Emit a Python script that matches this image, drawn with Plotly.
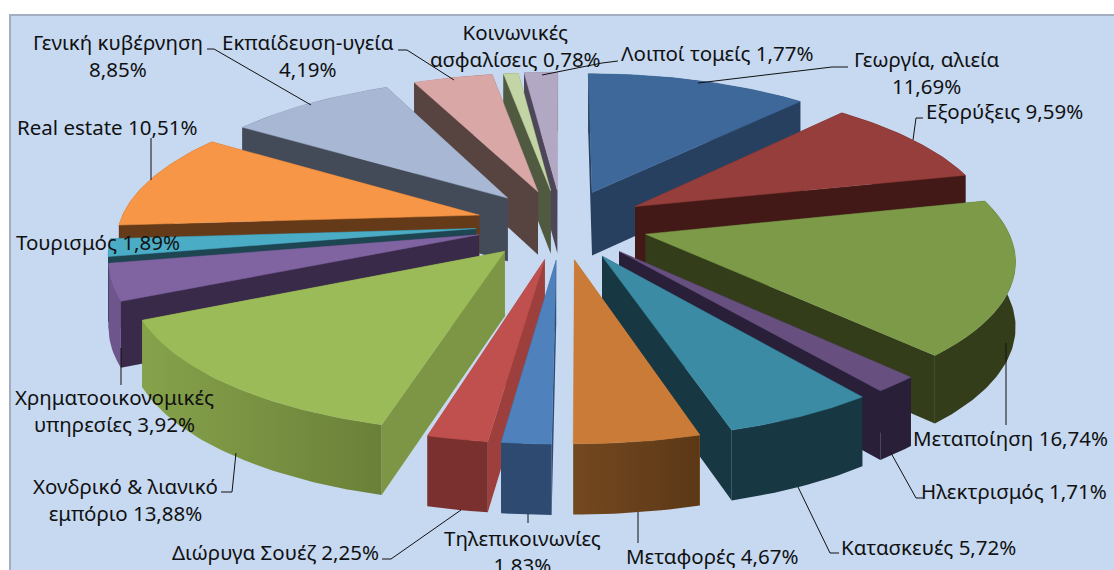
import numpy as np
import plotly.graph_objects as go

# ---------- data ----------
sectors = ["Γεωργία, αλιεία", "Εξορύξεις", "Μεταποίηση", "Ηλεκτρισμός", "Κατασκευές", "Μεταφορές",
           "Τηλεπικοινωνίες", "Διώρυγα Σουέζ", "Χονδρικό & λιανικό εμπόριο", "Χρηματοοικονομικές υπηρεσίες",
           "Τουρισμός", "Real estate", "Γενική κυβέρνηση", "Εκπαίδευση-υγεία", "Κοινωνικές ασφαλίσεις", "Λοιποί τομείς"]
shares = [11.69, 9.59, 16.74, 1.71, 5.72, 4.67, 1.83, 2.25, 13.88, 3.92, 1.89, 10.51, 8.85, 4.19, 0.78, 1.77]
top_colors = ["#3d6899", "#963e3b", "#7c9a48", "#67507f", "#3a8ba3", "#c97b37", "#4f81bd", "#c0504d",
              "#9bbb59", "#8064a2", "#4bacc6", "#f79646", "#a8b8d4", "#d9a7a6", "#c3d5a4", "#b3a8c4"]
wall_left = ["#274060", "#421917", "#333d1a", "#291f38", "#173742", "#74481f", "#2e4a70", "#7a302e",
             "#86a24b", "#6e558c", "#1d4552", "#643a18", "#444b58", "#574340", "#4f5a40", "#4c4658"]
wall_right = ["#274060", "#421917", "#333d1a", "#291f38", "#173742", "#5c3817", "#2e4a70", "#7a302e",
              "#6a8038", "#6e558c", "#1d4552", "#643a18", "#444b58", "#574340", "#4f5a40", "#4c4658"]
radial_colors = ["#274060", "#421917", "#333d1a", "#291f38", "#173742", "#c97b37", "#2e4a70", "#9c3f3d",
                 "#7c9645", "#3a2a4a", "#1d4552", "#643a18", "#444b58", "#574340", "#4f5a40", "#4c4658"]

labels = [("Γεωργία, αλιεία<br>11,69%", 926, 72), ("Εξορύξεις 9,59%", 1004, 111),
          ("Μεταποίηση 16,74%", 1010, 438), ("Ηλεκτρισμός 1,71%", 1014, 491),
          ("Κατασκευές 5,72%", 928, 547), ("Μεταφορές 4,67%", 712, 556),
          ("Τηλεπικοινωνίες<br>1,83%", 522, 551), ("Διώρυγα Σουέζ 2,25%", 275, 552),
          ("Χονδρικό & λιανικό<br>εμπόριο 13,88%", 125, 499),
          ("Χρηματοοικονομικές<br>υπηρεσίες 3,92%", 114, 410),
          ("Τουρισμός 1,89%", 98, 242), ("Real estate 10,51%", 107, 127),
          ("Γενική κυβέρνηση<br>8,85%", 118, 55), ("Εκπαίδευση-υγεία<br>4,19%", 308, 55),
          ("Κοινωνικές<br>ασφαλίσεις 0,78%", 515, 45), ("Λοιποί τομείς 1,77%", 717, 53)]
leaders = [[(698, 83), (832, 67), (848, 67)], [(913, 140), (916, 118), (923, 118)],
           [(1006, 343), (1006, 425)], [(891, 453), (916, 498), (923, 498)],
           [(798, 487), (830, 553), (839, 553)], [(638, 512), (638, 543)],
           [(528, 514), (528, 523)], [(461, 510), (391, 559), (382, 559)],
           [(236, 453), (232, 492), (221, 492)], [(121, 348), (121, 385)],
           [(151, 180), (151, 138)], [(311, 105), (214, 49), (207, 49)],
           [(454, 80), (407, 50), (398, 50)], [(542, 75), (602, 63), (618, 61)]]

# ---------- projection of the exploded pie ----------
CX, CY, AX, BY, PERSP, HEIGHT, EXPLODE = 562, 224, 360, 145, 0.148, 64, 0.24


def project(x, y, z=0.0):
    w = 1 + PERSP * y
    return CX + AX * x / w, CY - BY * y / w + HEIGHT * z / np.sqrt(w)


def arc_xy(a0, a1, ox, oy):
    n = max(4, int((a1 - a0) * 60))
    t = np.linspace(a0, a1, n)
    return ox + np.sin(t), oy + np.cos(t)


fig = go.Figure()
cum = np.concatenate([[0], np.cumsum(shares)]) / sum(shares) * 2 * np.pi
order = sorted(range(len(shares)), key=lambda i: -np.cos((cum[i] + cum[i + 1]) / 2))


def poly(px, py, color, width=0.0, color2=None):
    kw = {}
    if color2 is not None and color2 != color:
        kw["fillgradient"] = dict(type="horizontal", colorscale=[[0, color], [1, color2]])
    else:
        kw["fillcolor"] = color
    fig.add_trace(go.Scatter(x=px, y=py, mode="lines", fill="toself",
                             line=dict(color=color, width=width), hoverinfo="skip", showlegend=False, **kw))


for i in order:
    a0, a1 = cum[i], cum[i + 1]
    mid = (a0 + a1) / 2
    ox, oy = EXPLODE * np.sin(mid), EXPLODE * np.cos(mid)
    ax, ay = arc_xy(a0, a1, ox, oy)
    # radial walls
    for a in (a0, a1):
        ex, ey = ox + np.sin(a), oy + np.cos(a)
        p = [project(ox, oy), project(ex, ey), project(ex, ey, 1), project(ox, oy, 1), project(ox, oy)]
        poly([q[0] for q in p], [q[1] for q in p], radial_colors[i])
    # outer wall
    tx, ty = project(ax, ay)
    bx, by = project(ax, ay, 1)
    poly(list(tx) + list(bx[::-1]) + [tx[0]], list(ty) + list(by[::-1]) + [ty[0]], wall_left[i], 0.0, wall_right[i])
    # top face
    sx, sy = project(ox, oy)
    poly([sx] + list(tx) + [sx], [sy] + list(ty) + [sy], top_colors[i], 0.5)

for pts in leaders:
    fig.add_trace(go.Scatter(x=[p[0] for p in pts], y=[p[1] for p in pts], mode="lines",
                             line=dict(color="#111111", width=1), hoverinfo="skip", showlegend=False))

for text, x, y in labels:
    fig.add_annotation(x=x, y=y, text=text, showarrow=False, xanchor="center", yanchor="middle",
                       font=dict(family="Noto Sans", size=20.5, color="#111111"))

fig.update_layout(
    width=1114, height=570, margin=dict(l=0, r=0, t=0, b=0),
    paper_bgcolor="white", plot_bgcolor="white", showlegend=False,
    xaxis=dict(range=[0, 1114], visible=False, fixedrange=True),
    yaxis=dict(range=[570, 0], visible=False, fixedrange=True),
    shapes=[dict(type="rect", x0=10, y0=15, x1=1120, y1=580, fillcolor="#c6d9f1",
                 line=dict(color="#a3afc0", width=2), layer="below")],
)
fig.write_html("out.html", config={"displayModeBar": False},
               post_script="document.body.style.margin='0';document.body.style.overflow='hidden';")
